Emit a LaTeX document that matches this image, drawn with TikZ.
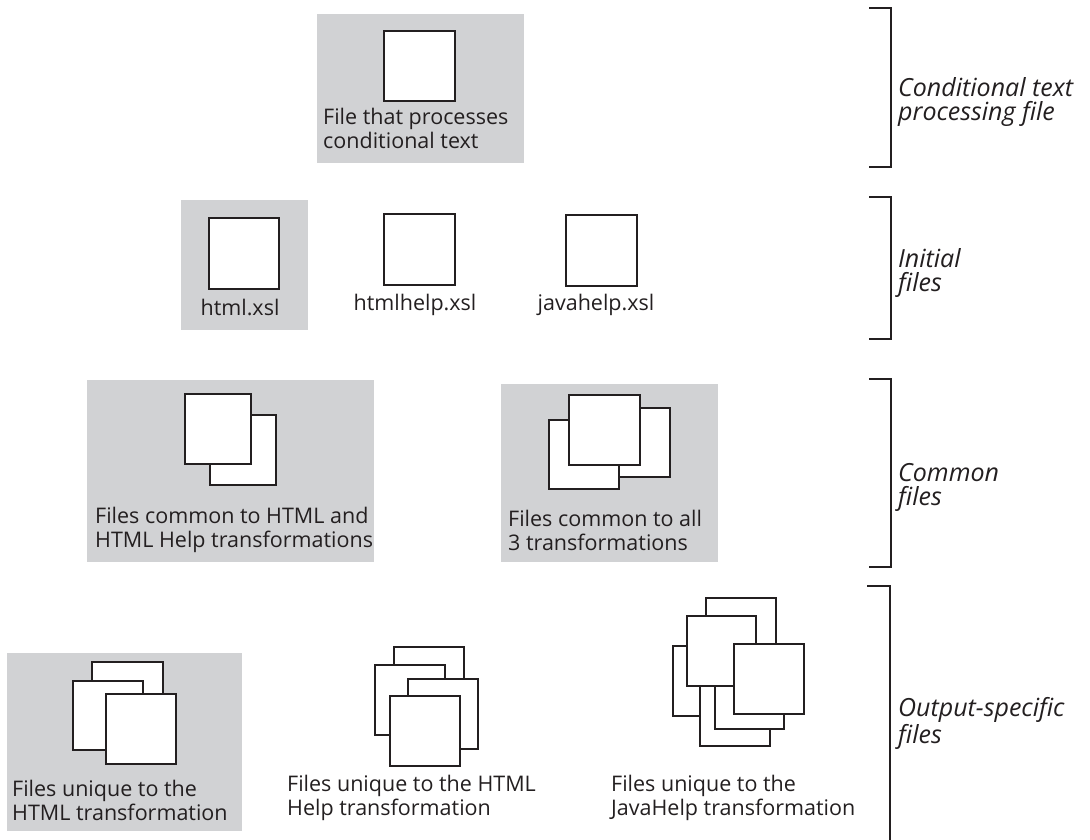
\documentclass[tikz,border=0pt]{standalone}
\usepackage{fontspec}
\setmainfont{Open Sans}
\definecolor{panel}{HTML}{D1D2D4}
\definecolor{ink}{HTML}{231F20}
\begin{document}
\begin{tikzpicture}[x=1pt,y=-1pt,
  panelbox/.style={fill=panel,draw=none},
  filesq/.style={fill=white,draw=ink,line width=1.7pt},
  bracketline/.style={draw=ink,line width=1.8pt},
  caption/.style={anchor=base west,inner sep=0pt,align=left,text=ink,
    font=\fontsize{21.5}{23.5}\selectfont},
  tier/.style={anchor=base west,inner sep=0pt,align=left,text=ink,
    font=\fontsize{25}{24}\selectfont\itshape}]
\useasboundingbox (0,0) rectangle (1090,839);
% ---- row 1
\fill[panelbox] (317,14) rectangle (524,163);
\draw[filesq] (384,31) rectangle (455,101);
\node[caption] (t1) at (323,148) {File that processes\\conditional text};
% ---- row 2
\fill[panelbox] (181,200) rectangle (308,330);
\draw[filesq] (209,218) rectangle (279,289);
\draw[filesq] (384,214) rectangle (455,285);
\draw[filesq] (566,215) rectangle (637,286);
\node[caption,anchor=base] (t2a) at (240,315) {html.xsl};
\node[caption,anchor=base] (t2b) at (415,310) {htmlhelp.xsl};
\node[caption,anchor=base] (t2c) at (596,310) {javahelp.xsl};
% ---- row 3
\fill[panelbox] (87,380) rectangle (374,562);
\draw[filesq] (210,415) rectangle (276,485);
\draw[filesq] (185,394) rectangle (251,464);
\node[caption] (t3a) at (95,547) {Files common to HTML and\\HTML Help transformations};
\fill[panelbox] (501,384) rectangle (718,562);
\draw[filesq] (600,408) rectangle (670,477);
\draw[filesq] (549,420) rectangle (619,489);
\draw[filesq] (569,395) rectangle (640,465);
\node[caption] (t3b) at (508,550) {Files common to all\\3 transformations};
% ---- row 4
\fill[panelbox] (7,653) rectangle (242,831);
\draw[filesq] (92,662) rectangle (163,732);
\draw[filesq] (73,681) rectangle (143,750);
\draw[filesq] (106,694) rectangle (176,764);
\node[caption] (t4a) at (12,820) {Files unique to the\\HTML transformation};
\draw[filesq] (394,647) rectangle (464,717);
\draw[filesq] (375,665) rectangle (445,735);
\draw[filesq] (408,679) rectangle (478,749);
\draw[filesq] (390,696) rectangle (460,766);
\node[caption] (t4b) at (287,815) {Files unique to the HTML\\Help transformation};
\draw[filesq] (706,598) rectangle (776,668);
\draw[filesq] (673,646) rectangle (743,716);
\draw[filesq] (700,676) rectangle (770,746);
\draw[filesq] (715,659) rectangle (784,729);
\draw[filesq] (687,616) rectangle (756,686);
\draw[filesq] (734,644) rectangle (804,714);
\node[caption] (t4c) at (611,815) {Files unique to the\\JavaHelp transformation};
% ---- brackets
\draw[bracketline] (869,8) -- (891,8) -- (891,167) -- (869,167);
\draw[bracketline] (869,197) -- (891,197) -- (891,339) -- (869,339);
\draw[bracketline] (869,379) -- (891,379) -- (891,567) -- (869,567);
\draw[bracketline] (867,586) -- (890,586) -- (890,845);
\node[tier] (b1) at (898,120) {Conditional text\\processing file};
\node[tier] (b2) at (898,291) {Initial\\files};
\node[tier] (b3) at (898,505) {Common\\files};
\node[tier] (b4) at (898,743) {Output-specific\\files};
\end{tikzpicture}
\end{document}
